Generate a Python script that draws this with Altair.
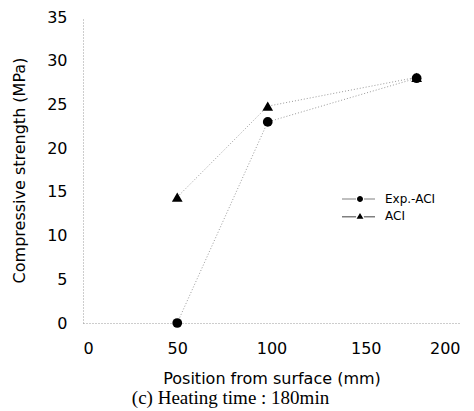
import altair as alt
import pandas as pd

# ---- data ----
positions = [50, 98, 177]
exp_aci = [0.0, 23.0, 28.0]
aci = [14.4, 24.8, 28.1]
series_names = ["Exp.-ACI", "ACI"]
x_ticks = [0, 50, 100, 150, 200]
y_ticks = [0, 5, 10, 15, 20, 25, 30, 35]

rows = []
for name, vals in zip(series_names, [exp_aci, aci]):
    for p, v in zip(positions, vals):
        rows.append({"series": name, "pos": p, "val": v})
df = pd.DataFrame(rows)

FONT = "DejaVu Sans"

x_enc = alt.X("pos:Q", scale=alt.Scale(domain=[0, 200], nice=False),
              axis=alt.Axis(values=x_ticks, title="Position from surface (mm)",
                            labelPadding=17, titlePadding=14))
y_enc = alt.Y("val:Q", scale=alt.Scale(domain=[0, 35], nice=False),
              axis=alt.Axis(values=y_ticks, title="Compressive strength (MPa)",
                            labelPadding=16, titlePadding=19))

lines = alt.Chart(df).mark_line(color="#9a9a9a", strokeDash=[1, 2], strokeWidth=1).encode(
    x=x_enc, y=y_enc, detail="series:N"
)

exp_points = alt.Chart(df).transform_filter(alt.datum.series == "Exp.-ACI").mark_point(
    shape="circle", filled=True, color="black", opacity=1, size=95
).encode(x=x_enc, y=y_enc)

aci_points = alt.Chart(df).transform_filter(alt.datum.series == "ACI").mark_point(
    shape="triangle-up", filled=True, color="black", opacity=1, size=115
).encode(x=x_enc, y=y_enc)

# legend glyphs: thin line pieces on both sides of the marker
circ_path = ("M-6,-0.1H-1.3V0.1H-6Z M1.3,-0.1H5V0.1H1.3Z "
             "M-1,0A1,1 0 1,0 1,0A1,1 0 1,0 -1,0Z")
tri_path = ("M-6,0.2H-1.3V0.4H-6Z M1.3,0.2H5V0.4H1.3Z "
            "M0,-1L1.15,0.95L-1.15,0.95Z")

legend_layer = alt.Chart(df).transform_filter("false").mark_point(
    filled=True, color="black", opacity=1
).encode(
    x=x_enc, y=y_enc,
    shape=alt.Shape("series:N", scale=alt.Scale(domain=series_names, range=[circ_path, tri_path]),
                    legend=alt.Legend(title=None, orient="none", legendX=271, legendY=176,
                                      symbolSize=36, symbolFillColor="black",
                                      symbolStrokeWidth=0, symbolOpacity=1,
                                      labelFont=FONT, labelFontSize=12, labelColor="black",
                                      labelOffset=19, rowPadding=5, padding=0)),
)

chart = alt.layer(lines, exp_points, aci_points, legend_layer).properties(
    width=377, height=306,
    autosize=alt.AutoSizeParams(type="none"),
    padding={"left": 75, "top": 9, "right": 6, "bottom": 88},
    title=alt.TitleParams("(c) Heating time : 180min", orient="bottom", font="Liberation Serif",
                          fontSize=19, fontWeight="normal", anchor="middle", dx=-41, offset=3,
                          color="black"),
).configure_view(stroke=None).configure_axis(
    grid=False, ticks=False, domainColor="#9a9a9a", domainDash=[1, 2], domainWidth=1,
    labelFont=FONT, labelFontSize=16, labelColor="black",
    titleFont=FONT, titleFontSize=16, titleFontWeight="normal", titleColor="black",
)

chart.save("out.html", embed_options={"renderer": "svg", "actions": False})
